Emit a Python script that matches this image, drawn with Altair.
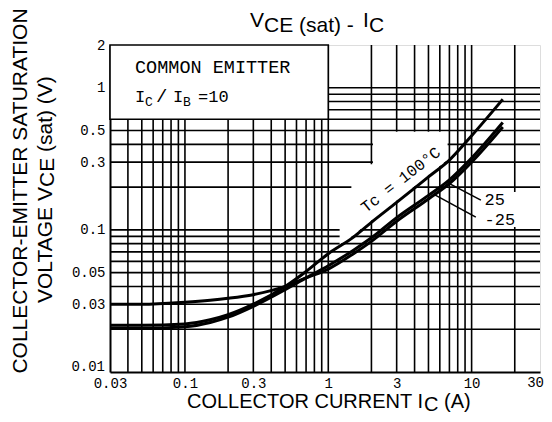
import altair as alt
import pandas as pd
import numpy as np

# ---- data ----
ic_values = [0.03, 0.05, 0.1, 0.15, 0.2, 0.3, 0.5, 0.7, 1, 1.5, 2, 3, 5, 7, 10, 16.5]
vce_100 = [0.0213, 0.0213, 0.0218, 0.0233, 0.0253, 0.030, 0.040, 0.051, 0.068, 0.089, 0.113, 0.156, 0.236, 0.31, 0.46, 0.83]
vce_25 = [0.0203, 0.0203, 0.0208, 0.0223, 0.0243, 0.029, 0.038, 0.046, 0.056, 0.072, 0.088, 0.122, 0.175, 0.225, 0.32, 0.57]
vce_m25 = [0.030, 0.030, 0.031, 0.032, 0.033, 0.035, 0.040, 0.046, 0.053, 0.068, 0.083, 0.115, 0.165, 0.212, 0.30, 0.53]

x_ticks = [0.03, 0.1, 0.3, 1, 3, 10]
x_last_tick = 30
y_ticks = [0.03, 0.05, 0.1, 0.3, 0.5, 1, 2]
y_first_tick = 0.01
x_grid = [0.04, 0.05, 0.06, 0.07, 0.08, 0.09, 0.1, 0.2, 0.3, 0.4, 0.5, 0.6, 0.7, 0.8, 0.9,
          1, 2, 3, 4, 5, 6, 7, 8, 9, 10, 20]
y_grid = [0.02, 0.03, 0.04, 0.05, 0.06, 0.07, 0.08, 0.09, 0.1, 0.2, 0.3, 0.4, 0.5, 0.6, 0.7, 0.8, 0.9, 1]

# annotation extents (data coordinates)
legend_box_x = [0.03, 1]
legend_box_y = [0.6, 2]
label_box_x = [10.25, 29.6]
label_box_y = [0.105, 0.185]
tc_clear_x = [1.2, 1.449, 1.451, 2.049, 2.051, 3, 4, 5, 6.8]
tc_clear_top = [0.19, 0.19, 0.29, 0.29, 0.49, 0.49, 0.49, 0.49, 0.49]
ptr25 = [(6.8, 0.215), (11.6, 0.162)]
ptrm25 = [(5.5, 0.177), (10.7, 0.123)]

W, H = 430, 327
MONO = "Liberation Mono"
SANS = "Liberation Sans"

xs = alt.Scale(type="log", domain=[0.03, 30], nice=False)
ys = alt.Scale(type="log", domain=[0.01, 2], nice=False)
xaxis = alt.Axis(values=x_ticks, format="~g", title=None, grid=False, ticks=False,
                 domainColor="black", domainWidth=2, labelFont=MONO, labelFontSize=14,
                 labelColor="black", labelPadding=4, labelFlush=False)
yaxis = alt.Axis(values=y_ticks, format="~g", title=None, grid=False, ticks=False,
                 domainColor="black", domainWidth=2, labelFont=MONO, labelFontSize=14,
                 labelColor="black", labelPadding=5, labelFlush=False)


def X(f):
    return alt.X(f, type="quantitative", scale=xs, axis=xaxis)


def Y(f):
    return alt.Y(f, type="quantitative", scale=ys, axis=yaxis)


vgrid = alt.Chart(pd.DataFrame({"x": x_grid})).mark_rule(color="black", strokeWidth=1.6).encode(x=X("x"))
hgrid = alt.Chart(pd.DataFrame({"y": y_grid})).mark_rule(color="black", strokeWidth=1.6).encode(y=Y("y"))

box = alt.Chart(pd.DataFrame({"x": [legend_box_x[0]], "x2": [legend_box_x[1]],
                              "y": [legend_box_y[0]], "y2": [legend_box_y[1]]})).mark_rect(
    fill="white", stroke="black", strokeWidth=1.6).encode(x=X("x"), x2="x2", y=Y("y"), y2="y2")

lbox = alt.Chart(pd.DataFrame({"x": [label_box_x[0]], "x2": [label_box_x[1]],
                               "y": [label_box_y[0]], "y2": [label_box_y[1]]})).mark_rect(
    fill="white").encode(x=X("x"), x2="x2", y=Y("y"), y2="y2")

# clear area above the 100C curve behind its label (lower edge follows the curve)
lx = np.log10(ic_values)
ly = np.log10(vce_100)
clear_low = [float(10 ** np.interp(np.log10(v), lx, ly) * 1.03) for v in tc_clear_x]
clear_df = pd.DataFrame({"x": tc_clear_x, "lo": clear_low, "hi": tc_clear_top})
clear = alt.Chart(clear_df).mark_area(color="white", opacity=1, interpolate="linear").encode(
    x=X("x"), y=Y("lo"), y2="hi")

rows = []
for name, vals in [("100", vce_100), ("25", vce_25), ("-25", vce_m25)]:
    for a, b in zip(ic_values, vals):
        rows.append({"ic": a, "vce": b, "tc": name})
curves = alt.Chart(pd.DataFrame(rows)).mark_line(
    color="black", strokeWidth=3, interpolate="monotone").encode(
    x=X("ic"), y=Y("vce"), detail="tc:N")

ptr_df = pd.DataFrame({"x": [ptr25[0][0], ptrm25[0][0]], "y": [ptr25[0][1], ptrm25[0][1]],
                       "x2": [ptr25[1][0], ptrm25[1][0]], "y2": [ptr25[1][1], ptrm25[1][1]]})
pointers = alt.Chart(ptr_df).mark_rule(color="black", strokeWidth=1.6).encode(
    x=X("x"), y=Y("y"), x2="x2", y2="y2")

lab_df = pd.DataFrame({"x": [12.3, 12.3], "y": [0.162, 0.118], "t": ["25", "-25"]})
labels = alt.Chart(lab_df).mark_text(font=MONO, fontSize=17, align="left", baseline="middle",
                                     color="black").encode(x=X("x"), y=Y("y"), text="t:N")

tc_df = pd.DataFrame({"x": [3.2], "y": [0.225], "t": ["Tc = 100°C"]})
tc_label = alt.Chart(tc_df).mark_text(font=MONO, fontSize=16, angle=322, align="center",
                                      baseline="middle", color="black").encode(
    x=X("x"), y=Y("y"), text="t:N")

last_df = pd.DataFrame({"x": [x_last_tick], "y": [y_first_tick], "t": ["30"]})
last_lab = alt.Chart(last_df).mark_text(font=MONO, fontSize=14, align="right", baseline="top",
                                        dx=4, dy=4, color="black").encode(
    x=X("x"), y=Y("y"), text="t:N")

first_df = pd.DataFrame({"x": [0.03], "y": [y_first_tick], "t": ["0.01"]})
first_lab = alt.Chart(first_df).mark_text(font=MONO, fontSize=14, align="right", baseline="middle",
                                          dx=-5, dy=-5, color="black").encode(
    x=X("x"), y=Y("y"), text="t:N")

one = pd.DataFrame({"a": [0]})


def txt(s, x, y, size=17, font=MONO, angle=0, align="left", baseline="alphabetic"):
    kw = dict(font=font, fontSize=size, align=align, baseline=baseline, color="black", text=s)
    if angle:
        kw["angle"] = angle
    return alt.Chart(one).mark_text(**kw).encode(x=alt.value(x), y=alt.value(y))


texts = [
    txt("COMMON EMITTER", 25, 28, 18.5),
    txt("I", 25, 57, 17), txt("C", 35, 61, 13), txt("/", 46, 57, 19),
    txt("I", 63, 57, 17), txt("B", 73, 61, 13), txt("=10", 88, 57, 17),
    # title
    txt("V", 140, -18, 21, SANS), txt("CE (sat) -", 154, -13, 21, SANS),
    txt("I", 253, -18, 21, SANS), txt("C", 259, -13, 21, SANS),
    # x title
    txt("COLLECTOR CURRENT I", 77, 363, 20, SANS), txt("C", 314, 366, 20, SANS),
    txt("(A)", 334, 363, 20, SANS),
    # y title
    txt("COLLECTOR-EMITTER SATURATION", -89, 146, 21, SANS, 270, "center", "middle"),
    txt("VOLTAGE V", -64, 258, 21, SANS, 270, "left", "middle"),
    txt("CE", -62, 142, 21, SANS, 270, "left", "middle"),
    txt("(sat) (V)", -64, 107, 21, SANS, 270, "left", "middle"),
]

chart = alt.layer(vgrid, hgrid, box, clear, lbox, curves, pointers, labels, tc_label, last_lab,
                  first_lab, *texts).properties(
    width=W, height=H, autosize=alt.AutoSizeParams(type="none"),
    padding={"left": 102, "top": 37, "right": 4, "bottom": 42}
).configure_view(stroke="black", strokeWidth=2).configure(background="white")

chart.save("out.html", embed_options={"renderer": "svg", "actions": False})
